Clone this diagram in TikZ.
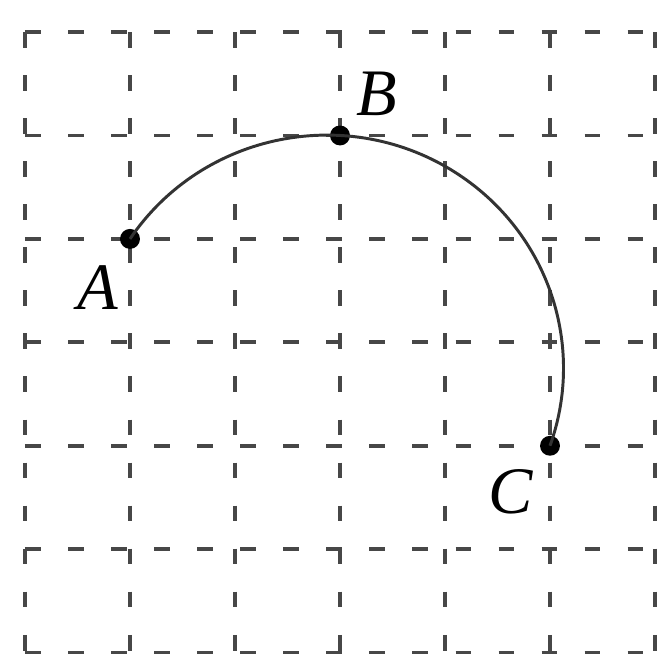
\documentclass[tikz,border=0pt]{standalone}
\usepackage{fontspec}
\setmainfont{Liberation Serif}
\usetikzlibrary{positioning}
\tikzset{
    gridline/.style={draw=black!72, line width=1pt, dash pattern=on 0.15cm off 0.26cm},
    arcline/.style={draw=black!80, line width=0.8pt},
    pointdot/.style={circle, fill=black, inner sep=0pt, minimum size=0.19cm},
    pointlabel/.style={font=\fontsize{18}{20}\selectfont\itshape, inner sep=1pt},
}

\begin{document}
\begin{tikzpicture}[x=1cm, y=0.985cm]
    \useasboundingbox (-0.238,-0.039) rectangle (6.133,6.31);
    % --- dashed grid ---
    \foreach \i in {0,...,6} {
        \draw[gridline] (\i,6) -- (\i,0);
        \draw[gridline] (0,\i) -- (6,\i);
    }
    % --- points ---
    \node[pointdot] (A) at (1,4) {};
    \node[pointdot] (B) at (3,5) {};
    \node[pointdot] (C) at (5,2) {};
    \node[pointlabel, below left=0.14cm and 0cm of A] (lA) {A};
    \node[pointlabel, above right=0.07cm and 0.04cm of B] (lB) {B};
    \node[pointlabel, below left=0.11cm and 0.05cm of C] (lC) {C};
    % --- arc through A, B and C ---
    \draw[arcline] (A.center) arc[start angle=146.31, end angle=-19.44, radius=2.2535];
\end{tikzpicture}
\end{document}
